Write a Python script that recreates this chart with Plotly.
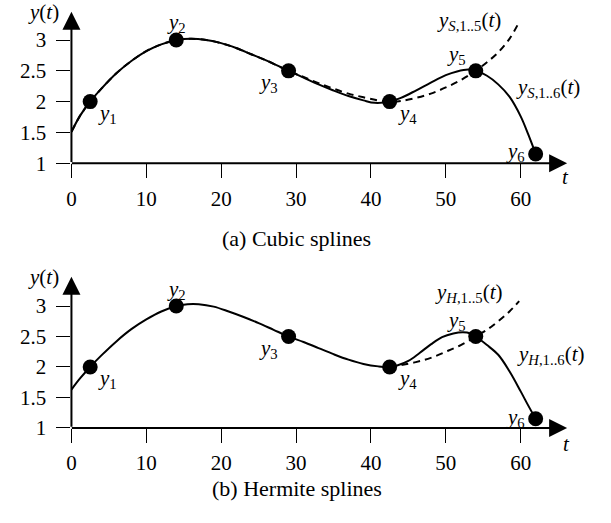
import plotly.graph_objects as go

W, H = 611, 523

# ---- data points (both panels) ----
t_pts = [2.5, 14, 29, 42.5, 54, 62]
y_pts = [2.0, 3.0, 2.5, 2.0, 2.5, 1.15]
pt_idx = ["1", "2", "3", "4", "5", "6"]

# ---- (a) cubic spline curves ----
cs6_t = [0, 1.2, 2.5, 4, 6, 8, 10, 12, 14, 16, 18, 20, 22, 24, 26, 29, 31, 33, 35, 37, 39, 40.5,
         42.5, 44, 46, 48, 50, 51.5, 53, 54, 55.5, 57, 58.5, 60, 61, 62]
cs6_y = [1.51, 1.78, 2.0, 2.21, 2.46, 2.66, 2.82, 2.93, 3.0, 3.02, 3.0, 2.95, 2.87, 2.77, 2.67, 2.5,
         2.39, 2.28, 2.18, 2.09, 2.02, 1.98, 2.0, 2.06, 2.18, 2.31, 2.43, 2.49, 2.52, 2.5, 2.42, 2.28,
         2.08, 1.76, 1.47, 1.15]
cs5_t = [0, 1.2, 2.5, 4, 6, 8, 10, 12, 14, 16, 18, 20, 22, 24, 26, 29, 31, 33, 35, 37, 39, 41,
         42.5, 44, 46, 48, 50, 52, 54, 55.5, 57, 58.5, 59.7]
cs5_y = [1.51, 1.78, 2.0, 2.21, 2.46, 2.66, 2.82, 2.93, 3.0, 3.02, 3.0, 2.95, 2.87, 2.77, 2.67, 2.5,
         2.40, 2.30, 2.21, 2.13, 2.07, 2.02, 2.0, 2.01, 2.06, 2.13, 2.23, 2.35, 2.5, 2.64, 2.8, 3.02, 3.27]

# ---- (b) Hermite spline curves ----
hs6_t = [0, 1.2, 2.5, 4, 6, 8, 10, 12, 14, 15.5, 17, 19, 21, 23, 25, 27, 29, 31, 33, 35, 37, 39, 41,
         42.5, 43.5, 45, 46.5, 48, 49.5, 51, 52.3, 53.3, 54, 55.5, 57, 58.5, 60, 61, 62]
hs6_y = [1.63, 1.82, 2.0, 2.19, 2.42, 2.62, 2.78, 2.91, 3.0, 3.03, 3.03, 2.99, 2.91, 2.82, 2.72, 2.61,
         2.5, 2.41, 2.31, 2.21, 2.12, 2.05, 2.01, 2.0, 2.025, 2.10, 2.23, 2.37, 2.49, 2.55, 2.57, 2.55,
         2.5, 2.36, 2.2, 1.93, 1.6, 1.37, 1.15]
hs5_t = [42.5, 44, 46, 48, 50, 52, 54, 55.5, 57, 58.5, 59.8]
hs5_y = [2.0, 2.03, 2.08, 2.15, 2.25, 2.36, 2.5, 2.61, 2.75, 2.91, 3.08]

x_ticks = [0, 10, 20, 30, 40, 50, 60]
y_ticks = [1, 1.5, 2, 2.5, 3]
y_tick_text = ["1", "1.5", "2", "2.5", "3"]

SERIF = "Liberation Serif, Times New Roman, Times, serif"
FS = 21


def px(x, y):
    return x / W, 1 - y / H


fig = go.Figure()

panels = [
    dict(xa="x", ya="y", c5=(cs5_t, cs5_y), c6=(cs6_t, cs6_y)),
    dict(xa="x2", ya="y2", c5=(hs5_t, hs5_y), c6=(hs6_t, hs6_y)),
]

for p in panels:
    fig.add_trace(go.Scatter(x=p["c5"][0], y=p["c5"][1], mode="lines", xaxis=p["xa"], yaxis=p["ya"],
                             line=dict(color="black", width=2, dash="7px,5px", shape="spline", smoothing=1),
                             hoverinfo="skip", showlegend=False))
    fig.add_trace(go.Scatter(x=p["c6"][0], y=p["c6"][1], mode="lines", xaxis=p["xa"], yaxis=p["ya"],
                             line=dict(color="black", width=2, shape="spline", smoothing=1),
                             hoverinfo="skip", showlegend=False))
    fig.add_trace(go.Scatter(x=t_pts, y=y_pts, mode="markers", xaxis=p["xa"], yaxis=p["ya"],
                             marker=dict(color="black", size=15), cliponaxis=False,
                             hoverinfo="skip", showlegend=False))

axis_common = dict(showgrid=False, zeroline=False, showline=False, ticks="outside", ticklen=14,
                   tickwidth=1, tickcolor="black", tickfont=dict(family=SERIF, size=FS, color="black"))

xdom = [67 / W, 569 / W]
fig.update_layout(
    width=W, height=H, margin=dict(l=0, r=0, t=0, b=0), autosize=False,
    paper_bgcolor="white", plot_bgcolor="white",
    xaxis=dict(domain=xdom, range=[0, 66.5], tickvals=x_ticks, anchor="y", ticklabelstandoff=3, **axis_common),
    yaxis=dict(domain=[1 - 167 / H, 1 - 9.5 / H], range=[1, 3.5], tickvals=y_ticks, ticktext=y_tick_text,
               anchor="x", ticklabelstandoff=6, **axis_common),
    xaxis2=dict(domain=xdom, range=[0, 66.5], tickvals=x_ticks, anchor="y2", ticklabelstandoff=2, **axis_common),
    yaxis2=dict(domain=[1 - 438 / H, 1 - 282 / H], range=[1, 3.5], tickvals=y_ticks, ticktext=y_tick_text,
                anchor="x2", ticklabelstandoff=6, **axis_common),
)

ann = []
# axis arrows
for xa, ya, ytop in [("x", "y", 3.46), ("x2", "y2", 3.48)]:
    ann.append(dict(x=66.2, y=1, ax=-0.15, ay=1, xref=xa, yref=ya, axref=xa, ayref=ya, text="",
                    showarrow=True, arrowhead=2, arrowsize=1.8, arrowwidth=2, arrowcolor="black", standoff=0))
    ann.append(dict(x=0, y=ytop, ax=0, ay=1 - 0.004, xref=xa, yref=ya, axref=xa, ayref=ya, text="",
                    showarrow=True, arrowhead=2, arrowsize=1.8, arrowwidth=2, arrowcolor="black", standoff=0))

# point labels (pixel offsets from each point)
offs_a = [(17, -12), (0, 17), (-20, -12), (18, -12), (-19, 16), (-20, 2)]
offs_b = [(17, -12), (0, 16), (-20, -13), (18, -12), (-19, 15), (-20, 1)]
for xa, ya, offs in [("x", "y", offs_a), ("x2", "y2", offs_b)]:
    for t, v, k, (dx, dy) in zip(t_pts, y_pts, pt_idx, offs):
        ann.append(dict(x=t, y=v, xref=xa, yref=ya, xshift=dx, yshift=dy, showarrow=False,
                        text=f"<i>y</i><sub>{k}</sub>", font=dict(family=SERIF, size=FS, color="black")))


def lab(x, y, text, size=FS):
    xp, yp = px(x, y)
    ann.append(dict(x=xp, y=yp, xref="paper", yref="paper", xanchor="center", yanchor="middle",
                    showarrow=False, text=text, font=dict(family=SERIF, size=size, color="black")))


lab(39, 12, "<i>y</i>(<i>t</i>)")
lab(39, 284, "<i>y</i>(<i>t</i>)")
lab(565, 181, "<i>t</i>")
lab(566, 454, "<i>t</i>")
lab(468, 22, "<i>y</i><sub><i>S</i>,1..5</sub>(<i>t</i>)")
lab(547, 90, "<i>y</i><sub><i>S</i>,1..6</sub>(<i>t</i>)")
lab(467, 300, "<i>y</i><sub><i>H</i>,1..5</sub>(<i>t</i>)")
lab(550, 363, "<i>y</i><sub><i>H</i>,1..6</sub>(<i>t</i>)")
lab(294, 244, "(a) Cubic splines", 22)
lab(294, 500, "(b) Hermite splines", 22)

fig.update_layout(annotations=ann)
fig.write_html("out.html", config={"responsive": False})
